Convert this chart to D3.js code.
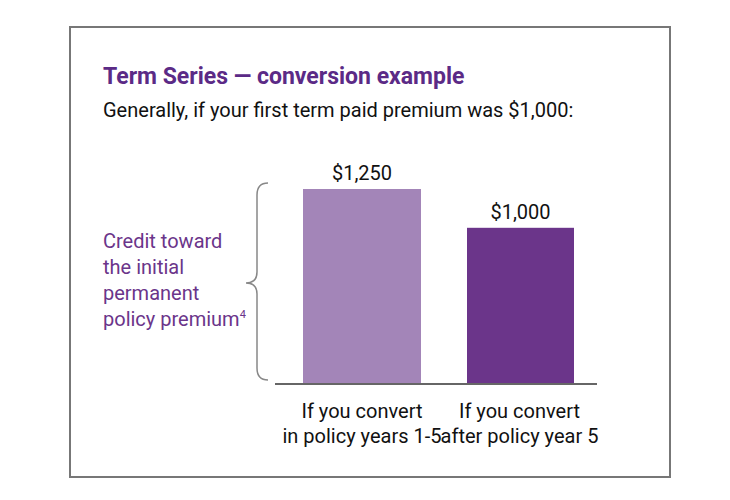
<!DOCTYPE html><html><head><meta charset="utf-8">
<script src="https://cdn.jsdelivr.net/npm/d3@7"></script>
<style>body{margin:0;background:#fff}</style></head><body>
<script>
const categories=[["If you convert","in policy years 1-5"],["If you convert","after policy year 5"]];
const values=[1250,1000];
const valueLabels=["$1,250","$1,000"];
const colors=["#a385b8","#6b358a"];
const sideText=["Credit toward","the initial","permanent","policy premium"];
const F="'Liberation Sans Narrow','Roboto','Arial Narrow',sans-serif";
const svg=d3.select("body").append("svg").attr("width",730).attr("height",500);
svg.append("rect").attr("x",70).attr("y",27).attr("width",600).attr("height",450).attr("fill","none").attr("stroke","#777").attr("stroke-width",2);
svg.append("text").attr("x",103).attr("y",84).attr("fill","#5b2a86").attr("font-family",F).attr("font-weight","bold").attr("font-size",23).text("Term Series — conversion example");
svg.append("text").attr("x",103).attr("y",117).attr("fill","#111").attr("font-family",F).attr("font-size",20).text("Generally, if your first term paid premium was $1,000:");
const y=d3.scaleLinear().domain([0,1250]).range([383,189]);
const x=d3.scaleOrdinal().domain([0,1]).range([[303,118],[467,107]]);
values.forEach((v,i)=>{
  const [bx,bw]=x(i);
  svg.append("rect").attr("x",bx).attr("y",y(v)).attr("width",bw).attr("height",y(0)-y(v)).attr("fill",colors[i]);
  svg.append("text").attr("x",bx+bw/2).attr("y",y(v)-9).attr("text-anchor","middle").attr("font-family",F).attr("font-size",20).attr("fill","#111").text(valueLabels[i]);
  categories[i].forEach((l,j)=>svg.append("text").attr("x",bx+bw/2+(i?-1:0)).attr("y",418+j*25).attr("text-anchor","middle").attr("font-family",F).attr("font-size",20).attr("fill","#111").text(l));
});
svg.append("line").attr("x1",275).attr("x2",597).attr("y1",384).attr("y2",384).attr("stroke","#666").attr("stroke-width",2);
const t=svg.append("g").attr("font-family",F).attr("font-size",20).attr("fill","#6b358a");
sideText.forEach((s,i)=>{const tx=t.append("text").attr("x",103).attr("y",248+i*26).text(s);if(i==3)tx.append("tspan").attr("font-size",11).attr("dy",-8).text("4");});
// brace
svg.append("path").attr("fill","none").attr("stroke","#888").attr("stroke-width",1.5)
 .attr("d","M268,183 Q257,183 257,195 L257,272 Q257,283 246,283 Q257,283 257,294 L257,368 Q257,380 268,380");
</script></body></html>
